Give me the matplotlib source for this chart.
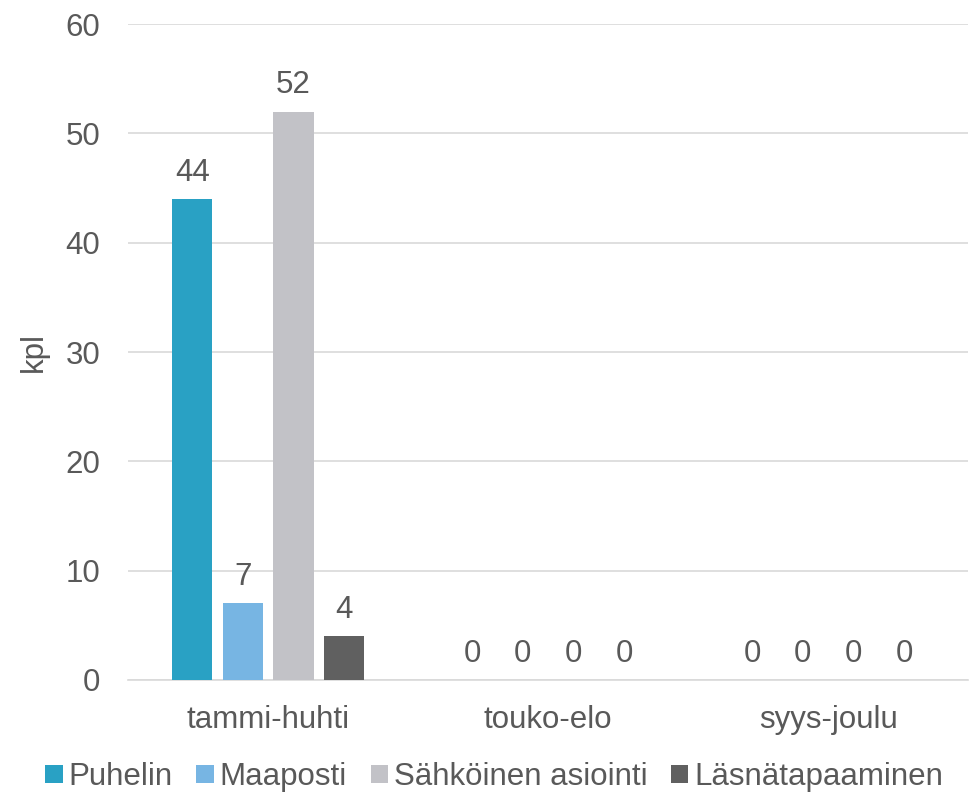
import numpy as np
import matplotlib.pyplot as plt

plt.rcParams['font.family'] = ['Liberation Sans', 'DejaVu Sans']

categories = ['tammi-huhti', 'touko-elo', 'syys-joulu']
series = ['Puhelin', 'Maaposti', 'Sähköinen asiointi', 'Läsnätapaaminen']
values = {
    'Puhelin': [44, 0, 0],
    'Maaposti': [7, 0, 0],
    'Sähköinen asiointi': [52, 0, 0],
    'Läsnätapaaminen': [4, 0, 0],
}
colors = ['#29A1C4', '#77B5E3', '#C2C2C7', '#606060']

txt = '#595959'
grid = '#D9D9D9'
fs = 22.5

fig = plt.figure(figsize=(9.71, 7.94), dpi=100)
ax = fig.add_axes([0.132, 0.1436, 0.865, 0.826])

x = np.arange(len(categories))
width = 0.143
step = 0.181
for i, name in enumerate(series):
    pos = x + (i - 1.5) * step
    bars = ax.bar(pos, values[name], width, color=colors[i], label=name, zorder=3)
    for b, v in zip(bars, values[name]):
        ax.annotate(str(v), (b.get_x() + b.get_width() / 2, v),
                    xytext=(0, 8), textcoords='offset points',
                    ha='center', va='bottom', fontsize=fs, color=txt)

ax.set_xlim(-0.5, 2.5)
ax.set_ylim(0, 60)
ax.set_yticks(range(0, 61, 10))
ax.set_xticks(x)
ax.set_xticklabels(categories)
ax.yaxis.grid(True, color=grid, linewidth=1.2, zorder=0)
for s in ['top', 'right', 'left']:
    ax.spines[s].set_visible(False)
ax.spines['bottom'].set_color(grid)
ax.spines['bottom'].set_linewidth(1.2)
ax.tick_params(axis='y', length=0, labelsize=fs, colors=txt, pad=20)
ax.tick_params(axis='x', length=0, labelsize=fs, colors=txt, pad=18)
ax.set_ylabel('kpl', fontsize=fs, color=txt, labelpad=12)

ax.legend(loc='lower center', bbox_to_anchor=(0.436, -0.19), ncol=4,
          frameon=False, fontsize=fs, labelcolor=txt,
          handlelength=0.55, handleheight=0.55, handletextpad=0.2,
          columnspacing=0.75, borderaxespad=0)

fig.savefig('out.png', dpi=100)
